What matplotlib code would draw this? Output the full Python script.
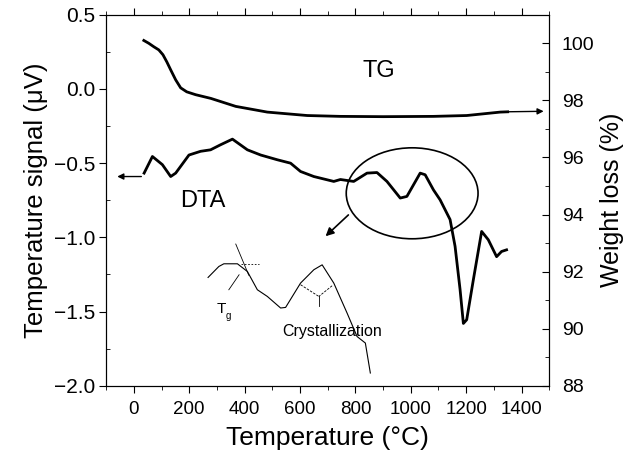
import matplotlib
matplotlib.use("Agg")
import matplotlib.pyplot as plt
from matplotlib.patches import Ellipse
from matplotlib.ticker import MultipleLocator

plt.rcParams["font.family"] = ["Liberation Sans", "DejaVu Sans"]

# TG curve (right axis, weight %)
tg_temp = [36, 54, 72, 90, 105, 119, 133, 151, 169, 191, 223, 278, 368, 482, 626, 746,
           900, 1082, 1202, 1323, 1350]
tg_wt = [100.1, 100.0, 99.88, 99.77, 99.6, 99.35, 99.07, 98.72, 98.44, 98.3, 98.2, 98.07,
         97.79, 97.59, 97.47, 97.44, 97.43, 97.44, 97.47, 97.59, 97.6]

# DTA curve (left axis, uV)
dta_temp = [37, 67, 103, 133, 151, 199, 241, 277, 313, 356, 410, 458, 518, 566, 602, 650,
            722, 746, 794, 842, 878, 914, 962, 986, 1034, 1052, 1082, 1106, 1142, 1160,
            1178, 1190, 1202, 1226, 1256, 1280, 1310, 1328, 1346]
dta_sig = [-0.567, -0.455, -0.51, -0.59, -0.567, -0.445, -0.42, -0.41, -0.376, -0.338,
           -0.41, -0.445, -0.477, -0.5, -0.556, -0.59, -0.623, -0.61, -0.623, -0.567,
           -0.563, -0.623, -0.735, -0.724, -0.567, -0.578, -0.68, -0.747, -0.88, -1.06,
           -1.35, -1.58, -1.555, -1.286, -0.96, -1.016, -1.13, -1.095, -1.084]

# magnified inset curve (thin), drawn in left-axis coordinates
ins_temp = [268, 307, 325, 374, 410, 446, 482, 530, 548, 602, 650, 680, 722, 770, 806, 836, 854]
ins_sig = [-1.270, -1.196, -1.178, -1.178, -1.230, -1.353, -1.398, -1.476, -1.472, -1.308,
           -1.218, -1.185, -1.308, -1.510, -1.668, -1.712, -1.914]

x_ticks = [0, 200, 400, 600, 800, 1000, 1200, 1400]
left_ticks = [0.5, 0.0, -0.5, -1.0, -1.5, -2.0]
right_ticks = [88, 90, 92, 94, 96, 98, 100]

fig = plt.figure(figsize=(6.32, 4.62), dpi=100)
ax = fig.add_axes([0.168, 0.165, 0.701, 0.803])
ax2 = ax.twinx()

ax.set_xlim(-100, 1500)
ax.set_ylim(-2.0, 0.5)
ax2.set_ylim(88, 101)

ax.plot(dta_temp, dta_sig, color="black", lw=2.0)
ax.plot(ins_temp, ins_sig, color="black", lw=0.8)
ax2.plot(tg_temp, tg_wt, color="black", lw=2.0)

# arrows pointing at the axes
ax.annotate("", xy=(-70, -0.59), xytext=(37, -0.59),
            arrowprops=dict(arrowstyle="-|>", color="black", lw=1.0, mutation_scale=9))
ax2.annotate("", xy=(1490, 97.62), xytext=(1340, 97.6),
             arrowprops=dict(arrowstyle="-|>", color="black", lw=1.0, mutation_scale=9))

# ellipse and arrow to the magnified part
ax.add_patch(Ellipse((1005, -0.703), 476, 0.613, fill=False, ec="black", lw=1.2))
ax.annotate("", xy=(685, -1.005), xytext=(782, -0.836),
            arrowprops=dict(arrowstyle="-|>", color="black", lw=1.2, mutation_scale=12))

# Tg construction lines
ax.plot([368, 415], [-1.045, -1.255], color="black", lw=0.6)
ax.plot([386, 452], [-1.178, -1.178], color="black", lw=0.6, ls=(0, (2, 2)))
ax.plot([343, 380], [-1.353, -1.252], color="black", lw=0.6)
ax.text(298, -1.48, "T", fontsize=11, ha="left", va="center")
ax.text(330, -1.53, "g", fontsize=7, ha="left", va="center")

# crystallization construction lines
ax.plot([602, 668], [-1.319, -1.398], color="black", lw=0.6, ls=(0, (3, 1.5)))
ax.plot([716, 668], [-1.326, -1.398], color="black", lw=0.6, ls=(0, (3, 1.5)))
ax.plot([668, 668], [-1.398, -1.461], color="black", lw=0.6)
ax.text(716, -1.634, "Crystallization", fontsize=11.5, ha="center", va="center")

ax.text(884, 0.118, "TG", fontsize=17, ha="center", va="center")
ax.text(248, -0.758, "DTA", fontsize=17, ha="center", va="center")

ax.set_xticks(x_ticks)
ax.xaxis.set_minor_locator(MultipleLocator(100))
ax.set_yticks(left_ticks)
ax.set_yticklabels(["0.5", "0.0", "\u22120.5", "\u22121.0", "\u22121.5", "\u22122.0"])
ax.yaxis.set_minor_locator(MultipleLocator(0.25))
ax2.set_yticks(right_ticks)
ax2.yaxis.set_minor_locator(MultipleLocator(1))

ax.tick_params(axis="x", which="major", direction="out", length=5, labelsize=13.5, pad=6, top=True)
ax.tick_params(axis="x", which="minor", direction="out", length=3, top=True)
ax.tick_params(axis="y", which="major", direction="out", length=5, labelsize=15, pad=3)
ax.tick_params(axis="y", which="minor", direction="in", length=3)
ax2.tick_params(axis="y", which="major", direction="in", length=5, labelsize=14, pad=9)
ax2.tick_params(axis="y", which="minor", direction="in", length=3)

ax.set_xlabel("Temperature (\u00b0C)", fontsize=19, labelpad=6)
ax.set_ylabel("Temperature signal (\u03bcV)", fontsize=18.5, labelpad=4)
ax2.set_ylabel("Weight loss (%)", fontsize=18)
ax2.yaxis.set_label_coords(1.115, 0.5)

fig.savefig("out.png", dpi=100)
